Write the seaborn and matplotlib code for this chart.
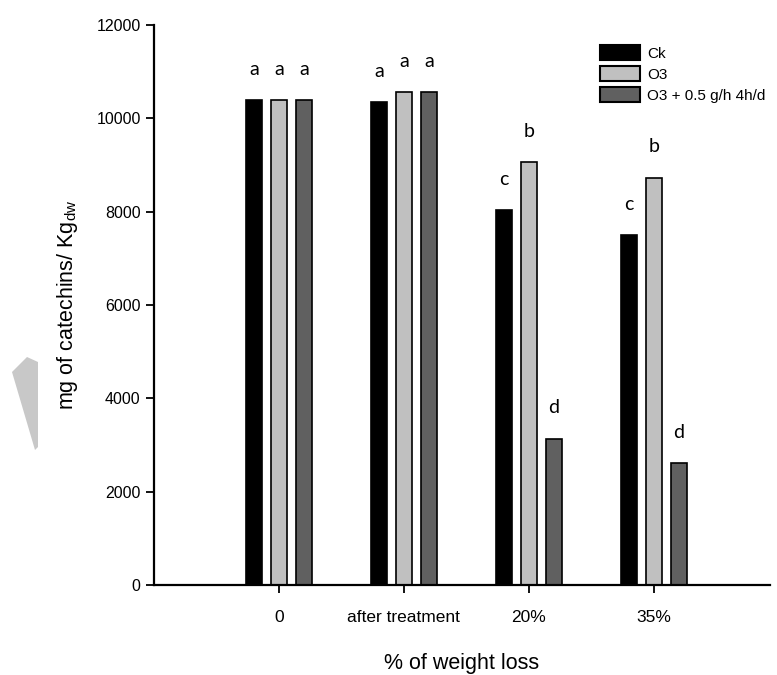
import matplotlib
matplotlib.use("Agg")
import matplotlib.pyplot as plt
from matplotlib.patches import Polygon
import pandas as pd
import seaborn as sns
sns.set_style("ticks")
plt.rcParams['font.family'] = ['Liberation Sans', 'DejaVu Sans']
plt.rcParams['text.color'] = 'black'
plt.rcParams['axes.labelcolor'] = 'black'

stages = ['0', 'after treatment', '20%', '35%']
treatments = ['Ck', 'O3', 'O3 + 0.5 g/h 4h/d']
ck = [10380, 10340, 8030, 7490]
o3 = [10380, 10560, 9060, 8720]
o3_ozone = [10380, 10560, 3130, 2610]
letters_ck = ['a', 'a', 'c', 'c']
letters_o3 = ['a', 'a', 'b', 'b']
letters_o3_ozone = ['a', 'a', 'd', 'd']
colors = ['#000000', '#c0c0c0', '#606060']

df = pd.DataFrame({
    'stage': stages * 3,
    'treatment': [t for t in treatments for _ in stages],
    'value': ck + o3 + o3_ozone,
})

fig = plt.figure(figsize=(7.77, 6.75), dpi=100)
ax = fig.add_axes([0.198, 0.1333, 0.793, 0.830])
sns.barplot(data=df, x='stage', y='value', hue='treatment',
            hue_order=treatments, order=stages, palette=colors,
            width=0.6, gap=0.36, edgecolor='black', linewidth=1.2,
            errorbar=None, ax=ax)

# significance letters above each bar
for cont, lets in zip(ax.containers, [letters_ck, letters_o3, letters_o3_ozone]):
    for bar, let in zip(cont, lets):
        ax.text(bar.get_x() + bar.get_width() / 2, bar.get_height() + 480, let,
                ha='center', va='bottom', fontsize=14, family='Lato')

ax.set_xlim(-1.0, 3.93)
ax.set_ylim(0, 12000)
ax.set_yticks(range(0, 12001, 2000))
ax.tick_params(axis='both', direction='out', length=6, width=1.3,
               colors='black')
ax.tick_params(axis='y', labelsize=11.5)
ax.tick_params(axis='x', labelsize=12.5, pad=12)
for s in ['left', 'bottom']:
    ax.spines[s].set_linewidth(1.6)
    ax.spines[s].set_color('black')
sns.despine(ax=ax)
ax.set_xlabel('% of weight loss', fontsize=15.5, labelpad=20)
ax.set_ylabel('mg of catechins/ Kg$_{\\mathregular{dw}}$', fontsize=15.5, labelpad=12)

leg = ax.legend(loc='upper left', bbox_to_anchor=(600 / 777, 1 - 45 / 675),
                bbox_transform=fig.transFigure, frameon=False, fontsize=11,
                handlelength=2.6, handleheight=1.15, labelspacing=0.35,
                handletextpad=0.5, borderpad=0, borderaxespad=0, title=None)
for h in leg.legend_handles:
    h.set_edgecolor('black')
    h.set_linewidth(1.5)

# grey arrow artifact at the left edge
fig.patches.append(Polygon([(12 / 777, 1 - 372 / 675), (27 / 777, 1 - 357 / 675),
                            (38 / 777, 1 - 362 / 675), (38 / 777, 1 - 447 / 675),
                            (35 / 777, 1 - 450 / 675)],
                           closed=True, facecolor='#c8c8c8', edgecolor='none',
                           transform=fig.transFigure))

fig.savefig('out.png', dpi=100)
